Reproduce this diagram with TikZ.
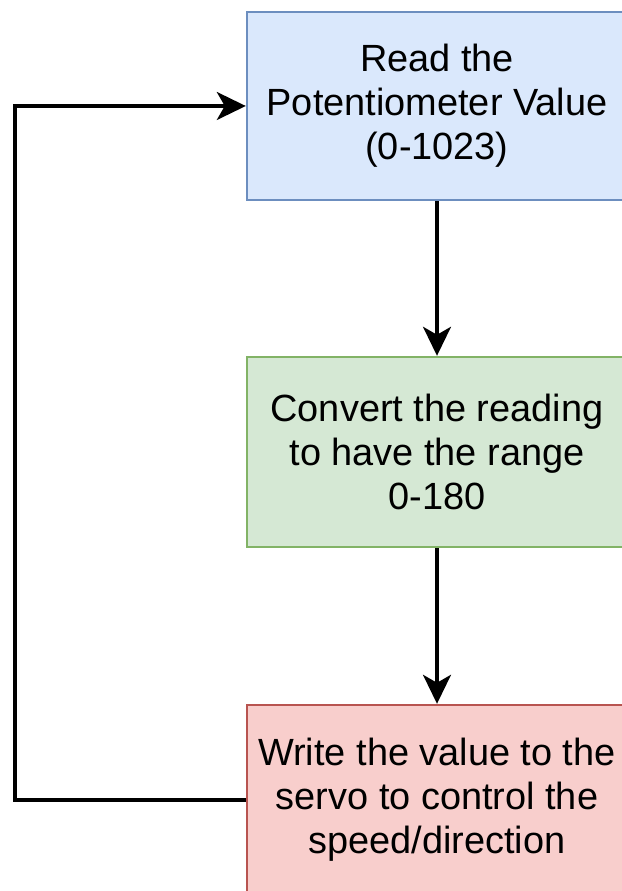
\documentclass[tikz,border=0pt]{standalone}
\usepackage{fontspec}
\setmainfont{Liberation Sans}
\usetikzlibrary{arrows.meta}
\definecolor{bfill}{HTML}{DAE8FC}\definecolor{bdraw}{HTML}{6C8EBF}
\definecolor{gfill}{HTML}{D5E8D4}\definecolor{gdraw}{HTML}{82B366}
\definecolor{rfill}{HTML}{F8CECC}\definecolor{rdraw}{HTML}{B85450}
\begin{document}
\begin{tikzpicture}[x=1pt,y=1pt,
  box/.style={draw, line width=2.4pt, minimum width=380pt, minimum height=188pt, align=center, inner sep=0pt,
    font=\fontsize{37.9}{44}\selectfont},
  arr/.style={line width=3.3pt, -{Stealth[length=29pt,width=28pt,inset=8pt]}}]
\useasboundingbox (0,0) rectangle (621,891);
\fill[white] (0,0) rectangle (621,891);
\node[box, fill=bfill, draw=bdraw] (b1) at (437,785) {Read the\\Potentiometer Value\\(0-1023)};
\node[box, fill=gfill, draw=gdraw, minimum height=190pt] (b2) at (437,439) {Convert the reading\\to have the range\\0-180};
\node[box, fill=rfill, draw=rdraw, minimum height=190pt] (b3) at (437,91) {Write the value to the\\servo to control the\\speed/direction};
\coordinate (lx) at (15,0);
\draw[arr] (b1.south) -- (b2.north);
\draw[arr] (b2.south) -- (b3.north);
\draw[arr] (b3.west) -- (b3.west -| lx) |- (b1.west);
\end{tikzpicture}
\end{document}
